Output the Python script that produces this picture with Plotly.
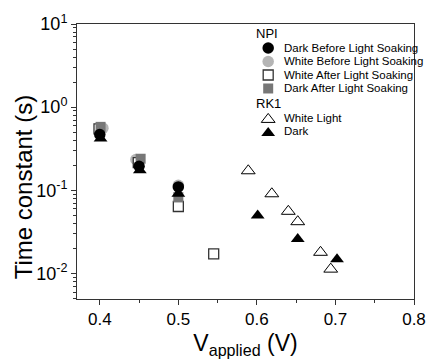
import plotly.graph_objects as go

# ---- data ----
dark_before_x = [0.40, 0.45, 0.50]
dark_before_y = [0.47, 0.195, 0.110]
white_before_x = [0.404, 0.446, 0.50]
white_before_y = [0.56, 0.235, 0.115]
white_after_x = [0.399, 0.449, 0.50, 0.545]
white_after_y = [0.55, 0.215, 0.064, 0.0172]
dark_after_x = [0.401, 0.452, 0.50]
dark_after_y = [0.58, 0.24, 0.083]
rk1_white_x = [0.589, 0.619, 0.640, 0.652, 0.681, 0.694]
rk1_white_y = [0.172, 0.091, 0.056, 0.042, 0.018, 0.0113]
rk1_dark_x = [0.401, 0.451, 0.50, 0.601, 0.652, 0.702]
rk1_dark_y = [0.42, 0.175, 0.091, 0.050, 0.026, 0.0149]

x_ticks = [0.4, 0.5, 0.6, 0.7, 0.8]
x_ticklabels = ["0.4", "0.5", "0.6", "0.7", "0.8"]
y_ticks = [0.01, 0.1, 1, 10]
y_ticklabels = ["10<sup>-2</sup>", "10<sup>-1</sup>", "10<sup>0</sup>", "10<sup>1</sup>"]
y_minor = [m * 10.0 ** e for e in (-3, -2, -1, 0) for m in range(2, 10)]

FONT = "Arial, Liberation Sans, sans-serif"
AX = "#333333"

styles = {
    "dark_before": dict(symbol="circle", size=11.5, color="#000000", line=dict(width=0)),
    "white_before": dict(symbol="circle", size=11.5, color="#b5b5b5", line=dict(width=0)),
    "white_after": dict(symbol="square", size=10, color="#ffffff", line=dict(width=1.3, color="#333333")),
    "dark_after": dict(symbol="square", size=10, color="#777777", line=dict(width=0)),
    "rk1_white": dict(symbol="triangle-up", size=12, color="#ffffff", line=dict(width=1, color="#000000")),
    "rk1_dark": dict(symbol="triangle-up", size=12, color="#000000", line=dict(width=0)),
}

fig = go.Figure()
series = [
    ("white_before", white_before_x, white_before_y),
    ("white_after", white_after_x, white_after_y),
    ("dark_after", dark_after_x, dark_after_y),
    ("dark_before", dark_before_x, dark_before_y),
    ("rk1_white", rk1_white_x, rk1_white_y),
    ("rk1_dark", rk1_dark_x, rk1_dark_y),
]
for key, xs, ys in series:
    fig.add_trace(go.Scatter(x=xs, y=ys, mode="markers", marker=styles[key],
                             showlegend=False, hoverinfo="skip"))

# ---- manual legend (layout, in pixel rows converted to paper) ----
L, R, T, B = 77, 12, 24, 59
W, H = 438, 364
pw, ph = W - L - R, H - T - B
def px2x(p): return (p - L) / pw
def py2y(p): return (H - B - p) / ph

legend_groups = [
    ("NPI", 34, [("dark_before", "Dark Before Light Soaking"),
                 ("white_before", "White Before Light Soaking"),
                 ("white_after", "White After Light Soaking"),
                 ("dark_after", "Dark After Light Soaking")], 48.5),
    ("RK1", 105, [("rk1_white", "White Light"), ("rk1_dark", "Dark")], 120),
]
row = 13.8
for title, ty, items, y0 in legend_groups:
    fig.add_annotation(x=px2x(260), y=py2y(ty), xref="paper", yref="paper", text=title,
                       showarrow=False, xanchor="left", yanchor="middle",
                       font=dict(family=FONT, size=13, color="#000"))
    for i, (key, label) in enumerate(items):
        yy = y0 + i * row
        st = dict(styles[key])
        if st["symbol"] == "triangle-up":
            yy += 1.5
        fig.add_trace(go.Scatter(x=[px2x(275)], y=[py2y(yy)], xaxis="x2", yaxis="y2",
                                 mode="markers", marker=st, showlegend=False, hoverinfo="skip"))
        fig.add_annotation(x=px2x(289), y=py2y(y0 + i * row), xref="paper", yref="paper", text=label,
                           showarrow=False, xanchor="left", yanchor="middle",
                           font=dict(family=FONT, size=11.5, color="#000"))

# y-axis title placed where the reference has it (slightly below plot centre)
fig.add_annotation(x=px2x(22), y=py2y(190), xref="paper", yref="paper", text="Time constant (s)",
                   textangle=-90, showarrow=False, xanchor="center", yanchor="middle",
                   font=dict(family=FONT, size=24, color="#000"))

fig.update_layout(
    width=W, height=H,
    margin=dict(l=L, r=R, t=T, b=B, pad=0),
    paper_bgcolor="white", plot_bgcolor="white",
    showlegend=False,
    font=dict(family=FONT, color="#000"),
    xaxis=dict(range=[0.371, 0.8], tickvals=x_ticks, ticktext=x_ticklabels,
               ticks="outside", ticklen=5, tickwidth=1, tickcolor=AX,
               minor=dict(dtick=0.05, tick0=0.35, ticks="outside", ticklen=3, tickcolor=AX, showgrid=False),
               showline=True, linecolor=AX, linewidth=1, mirror=True,
               showgrid=False, zeroline=False,
               tickfont=dict(family=FONT, size=17, color="#000"),
               title=dict(text="V<sub>applied</sub> (V)", font=dict(family=FONT, size=23, color="#000"), standoff=6)),
    yaxis=dict(type="log", range=[-2.306, 1.0], tickmode="array", tickvals=y_ticks, ticktext=y_ticklabels,
               ticks="outside", ticklen=5, tickwidth=1, tickcolor=AX,
               minor=dict(tickmode="array", tickvals=y_minor, ticks="outside", ticklen=3, tickcolor=AX, showgrid=False),
               showline=True, linecolor=AX, linewidth=1, mirror=True,
               showgrid=False, zeroline=False,
               tickfont=dict(family=FONT, size=18, color="#000")),
    xaxis2=dict(overlaying="x", range=[0, 1], visible=False, fixedrange=True),
    yaxis2=dict(overlaying="y", range=[0, 1], visible=False, fixedrange=True),
)

fig.write_html("out.html")
